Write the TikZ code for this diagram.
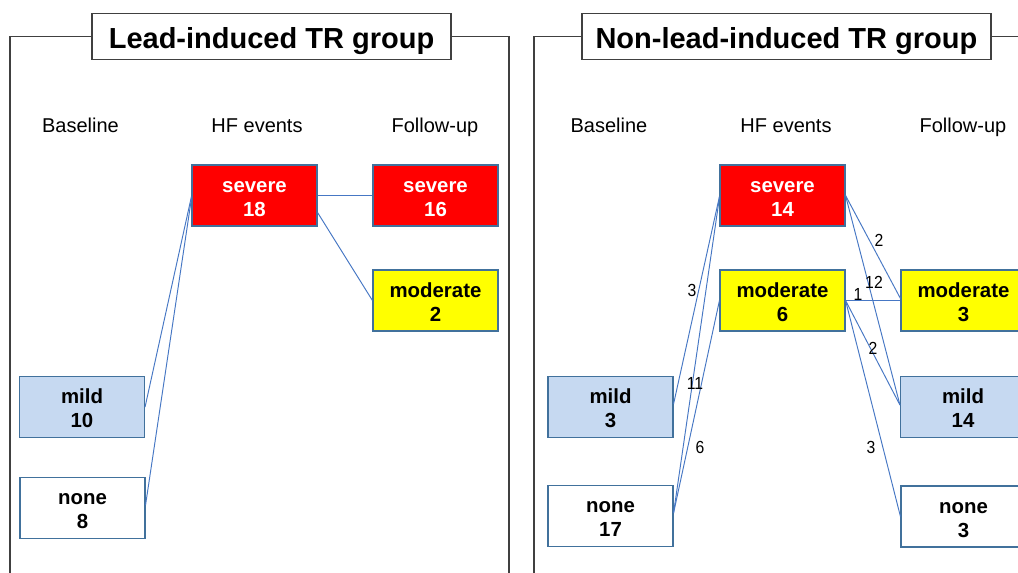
\documentclass[tikz,border=0pt]{standalone}
\usepackage{fontspec}
\setmainfont{Liberation Sans}
\newfontfamily\lblfont[FakeStretch=0.9]{Liberation Sans}
\usetikzlibrary{calc}
\definecolor{sevred}{HTML}{FF0000}
\definecolor{modyel}{HTML}{FFFF00}
\definecolor{mildblue}{HTML}{C6D9F1}
\definecolor{boxedge}{HTML}{41719C}
\definecolor{connblue}{HTML}{4677C4}
\definecolor{framegray}{HTML}{404040}
\newcommand\twoline[2]{\begin{tabular}{@{}c@{}}#1\\#2\end{tabular}}
\tikzset{
  statebox/.style={draw=boxedge, line width=1.1pt, minimum width=125pt, minimum height=61pt,
    inner sep=0pt},
  boxtxt/.style={inner sep=0pt, yshift=-4pt, font=\fontsize{20.4}{24}\selectfont\bfseries},
  sevbox/.style={statebox, fill=sevred, label={[boxtxt, text=white]center:{#1}}},
  modbox/.style={statebox, fill=modyel, label={[boxtxt]center:{#1}}},
  mildbox/.style={statebox, fill=mildblue, label={[boxtxt]center:{#1}}},
  nonebox/.style={statebox, fill=white, label={[boxtxt]center:{#1}}},
  conn/.style={draw=connblue, line width=0.95pt},
  framel/.style={draw=framegray, line width=1.3pt},
  titlebox/.style={draw=framegray, line width=1.3pt, fill=white, minimum height=46pt,
    inner sep=0pt, text height=23pt, text depth=0pt, font=\fontsize{29}{34}\selectfont\bfseries},
  hdr/.style={anchor=base, inner sep=0pt, font=\fontsize{20}{24}\selectfont},
  elab/.style={inner sep=0pt, font=\lblfont\fontsize{17.5}{20}\selectfont}
}
\begin{document}
\begin{tikzpicture}[x=1pt, y=-1pt]
\useasboundingbox (0,0) rectangle (1018,573);
\fill[white] (0,0) rectangle (1018,573);

% ---------- Left panel ----------
\node[titlebox, minimum width=359pt] (ttlA) at (271.5,36.5) {Lead-induced TR group};
\coordinate (fA1) at (10,580);
\coordinate (fA2) at (509,580);
\draw[framel] (fA1) |- (ttlA.west);
\draw[framel] (ttlA.east) -| (fA2);

\node[hdr] (hA1) at (80.5,132) {Baseline};
\node[hdr] (hA2) at (257,132) {HF events};
\node[hdr] (hA3) at (435,132) {Follow-up};

\node[sevbox={\twoline{severe}{18}}] (sevA) at (254.5,195.5) {};
\node[sevbox={\twoline{severe}{16}}] (sevAf) at (435.5,195.5) {};
\node[modbox={\twoline{moderate}{2}}] (modAf) at (435.5,300.5) {};
\node[mildbox={\twoline{mild}{10}}] (mildA) at (82,407) {};
\node[nonebox={\twoline{none}{8}}] (noneA) at (82.5,508) {};

\draw[conn] (mildA.east) -- ($(sevA.west)+(0,1)$);
\draw[conn] ($(noneA.east)+(0,-3)$) -- ($(sevA.west)+(0,3)$);
\draw[conn] (sevA.east) -- (sevAf.west);
\draw[conn] ($(sevA.east)+(0,17)$) -- (modAf.west);

% ---------- Right panel ----------
\node[titlebox, minimum width=409pt] (ttlB) at (786.4,36.5) {Non-lead-induced TR group};
\coordinate (fB1) at (534,580);
\coordinate (fB2) at (1030,36.5);
\draw[framel] (fB1) |- (ttlB.west);
\draw[framel] (ttlB.east) -- (fB2);

\node[hdr] (hB1) at (609,132) {Baseline};
\node[hdr] (hB2) at (786,132) {HF events};
\node[hdr] (hB3) at (963,132) {Follow-up};

\node[sevbox={\twoline{severe}{14}}] (sevB) at (782.5,195.5) {};
\node[modbox={\twoline{moderate}{6}}] (modB) at (782.5,300.5) {};
\node[mildbox={\twoline{mild}{3}}] (mildB) at (610.5,407) {};
\node[nonebox={\twoline{none}{17}}] (noneB) at (610.5,516) {};
\node[modbox={\twoline{moderate}{3}}] (modBf) at (963.5,300.5) {};
\node[mildbox={\twoline{mild}{14}}] (mildBf) at (963,407) {};
\node[nonebox={\twoline{none}{3}}] (noneBf) at (963.5,516.5) {};

\draw[conn] ($(mildB.east)+(0,-3)$) -- ($(sevB.west)+(0,1)$);
\draw[conn] ($(noneB.east)+(0,-3)$) -- ($(sevB.west)+(0,2)$);
\draw[conn] ($(noneB.east)+(0,-3)$) -- (modB.west);
\draw[conn] (sevB.east) -- ($(modBf.west)+(0,-2)$);
\draw[conn] (sevB.east) -- ($(mildBf.west)+(0,-2)$);
\draw[conn] (modB.east) -- (modBf.west);
\draw[conn] (modB.east) -- ($(mildBf.west)+(0,-2)$);
\draw[conn] (modB.east) -- (noneBf.west);

\node[elab] (n3a) at (692,290) {3};
\node[elab] (n11) at (695,383) {11};
\node[elab] (n6) at (700,447) {6};
\node[elab] (n2a) at (879,240) {2};
\node[elab] (n12) at (874,282) {12};
\node[elab] (n1) at (858,294) {1};
\node[elab] (n2b) at (873,348) {2};
\node[elab] (n3b) at (871,447) {3};
\end{tikzpicture}
\end{document}
